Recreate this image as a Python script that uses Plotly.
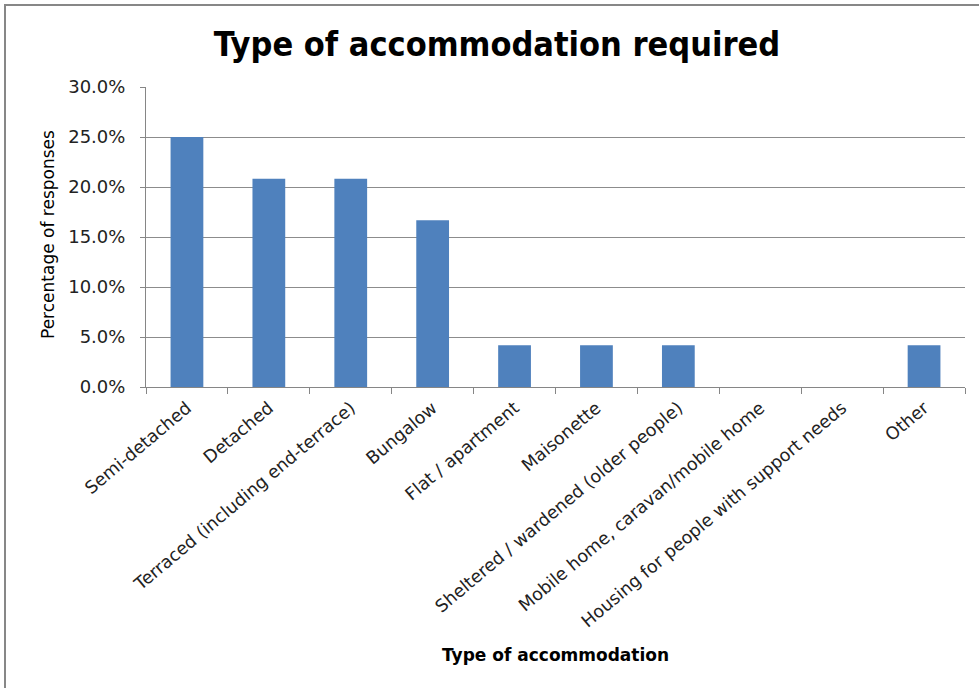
import plotly.graph_objects as go

categories = [
    "Semi-detached",
    "Detached",
    "Terraced (including end-terrace)",
    "Bungalow",
    "Flat / apartment",
    "Maisonette",
    "Sheltered / wardened (older people)",
    "Mobile home, caravan/mobile home",
    "Housing for people with support needs",
    "Other",
]
percent_values = [25.0, 20.83, 20.83, 16.67, 4.17, 4.17, 4.17, 0.0, 0.0, 4.17]
y_ticks = [0, 5, 10, 15, 20, 25, 30]
y_tick_labels = ["0.0%", "5.0%", "10.0%", "15.0%", "20.0%", "25.0%", "30.0%"]

W, H = 979, 688
L, R, T, B = 146, 14, 87, 301
pw, ph = W - L - R, H - T - B

def px_x(x):
    return (x - L) / pw

def px_y(y):
    return (H - B - y) / ph

fig = go.Figure(
    go.Bar(
        x=categories,
        y=percent_values,
        marker=dict(color="#4F81BD", line=dict(width=0)),
        hoverinfo="x+y",
    )
)

fig.update_layout(
    width=W,
    height=H,
    margin=dict(l=L, r=R, t=T, b=B),
    paper_bgcolor="white",
    plot_bgcolor="white",
    bargap=0.6,
    showlegend=False,
    title=dict(
        text="<b>Type of accommodation required</b>",
        x=497 / W,
        xref="container",
        xanchor="center",
        y=1 - 44 / H,
        yref="container",
        yanchor="middle",
        font=dict(family="DejaVu Sans Condensed", size=34, color="#000000"),
    ),
    xaxis=dict(
        type="category",
        tickangle=-40,
        tickson="boundaries",
        ticks="outside",
        ticklen=6,
        tickcolor="#868686",
        showline=True,
        linecolor="#868686",
        linewidth=1,
        showgrid=False,
        tickfont=dict(family="DejaVu Sans", size=17.5, color="#222222"),
        ticklabelstandoff=3,
        range=[-0.5, 9.5],
    ),
    yaxis=dict(
        range=[0, 30],
        tickvals=y_ticks,
        ticktext=y_tick_labels,
        ticks="outside",
        ticklen=5,
        tickcolor="#868686",
        showline=True,
        linecolor="#868686",
        linewidth=1,
        showgrid=True,
        gridcolor="#8C8C8C",
        gridwidth=1,
        zeroline=False,
        tickfont=dict(family="DejaVu Sans", size=18, color="#222222"),
        ticklabelstandoff=11,
    ),
    annotations=[
        dict(
            text="Percentage of responses",
            xref="paper", yref="paper",
            x=px_x(48), y=px_y(235),
            textangle=-90,
            showarrow=False,
            xanchor="center", yanchor="middle",
            font=dict(family="DejaVu Sans", size=17, color="#000000"),
        ),
        dict(
            text="<b>Type of accommodation</b>",
            xref="paper", yref="paper",
            x=px_x(555), y=px_y(655),
            showarrow=False,
            xanchor="center", yanchor="middle",
            font=dict(family="DejaVu Sans", size=17, color="#000000"),
        ),
    ],
    shapes=[
        dict(type="line", xref="paper", yref="paper",
             x0=px_x(4), x1=px_x(980), y0=px_y(5), y1=px_y(5),
             line=dict(color="#878787", width=2)),
        dict(type="line", xref="paper", yref="paper",
             x0=px_x(5), x1=px_x(5), y0=px_y(4), y1=px_y(690),
             line=dict(color="#878787", width=2)),
    ],
)

fig.write_html(
    "out.html",
    config={"displayModeBar": False},
    post_script="document.body.style.margin='0';document.body.style.overflow='hidden';",
)
